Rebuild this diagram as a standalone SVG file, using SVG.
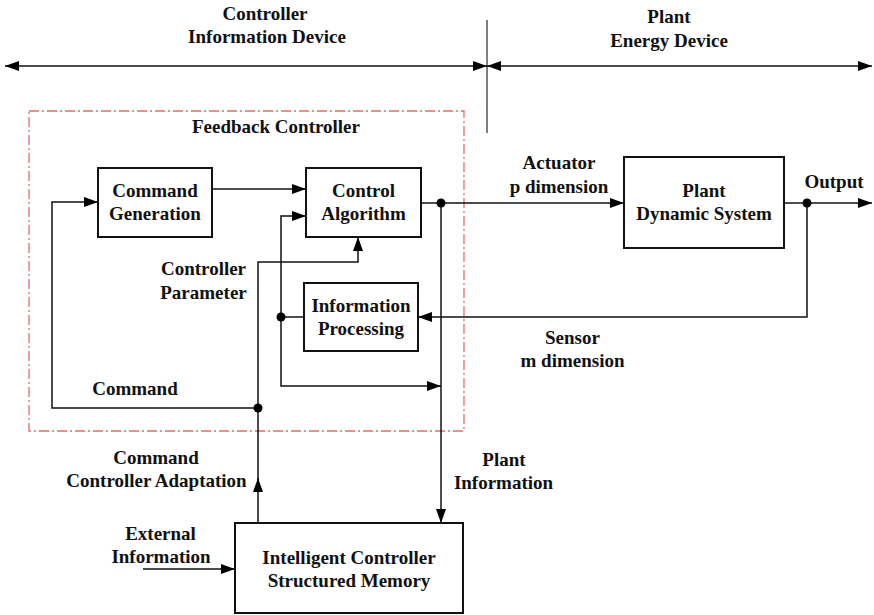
<svg xmlns="http://www.w3.org/2000/svg" width="874" height="615" viewBox="0 0 874 615">
<defs>
<marker id="ah" markerWidth="14" markerHeight="10" refX="14" refY="5" orient="auto-start-reverse" markerUnits="userSpaceOnUse"><path d="M0,0 L14,5 L0,10 z" fill="#000"/></marker>
<style>
text{font-family:"Liberation Serif","Times New Roman",serif;font-weight:bold;font-size:19px;fill:#111;text-anchor:middle}
.box{fill:#fff;stroke:#111;stroke-width:2}
.ln{fill:none;stroke:#111;stroke-width:1.5}
.arr{fill:none;stroke:#111;stroke-width:1.5;marker-end:url(#ah)}
.dot{fill:#000}
.region{fill:none;stroke:#e36a6a;stroke-width:1.3;stroke-dasharray:10 3 2 3}
</style>
</defs>
<rect width="874" height="615" fill="#fff"/>
<g id="domains">
<line x1="487" y1="20" x2="487" y2="133" stroke="#555" stroke-width="1.5"/>
<line x1="5" y1="66" x2="487" y2="66" stroke="#111" stroke-width="1.5" marker-start="url(#ah)" marker-end="url(#ah)"/>
<line x1="487" y1="66" x2="872" y2="66" stroke="#111" stroke-width="1.5" marker-start="url(#ah)" marker-end="url(#ah)"/>
<text x="265" y="20">Controller</text>
<text x="267" y="43">Information Device</text>
<text x="669" y="23">Plant</text>
<text x="669" y="47">Energy Device</text>
</g>
<g id="feedback-controller">
<rect class="region" x="29" y="111" width="435" height="320"/>
<text x="276" y="133">Feedback Controller</text>
</g>
<g id="connectors">
<path class="arr" d="M212,189 H306"/>
<path class="arr" d="M258,408 H52 V202 H98"/>
<path class="arr" d="M258,480 V262 H358 V237"/>
<path class="arr" d="M258,523 V478"/>
<path class="ln" d="M304,317 H281"/>
<path class="arr" d="M281,317 V216 H306"/>
<path class="arr" d="M281,317 V386 H441"/>
<path class="arr" d="M421,203 H624"/>
<path class="arr" d="M441,203 V523"/>
<path class="arr" d="M784,203 H872"/>
<path class="arr" d="M807,203 V317 H418"/>
<path class="arr" d="M143,569 H235"/>
<circle class="dot" cx="441" cy="203" r="4.5"/>
<circle class="dot" cx="807" cy="203" r="4.5"/>
<circle class="dot" cx="281" cy="317" r="4.5"/>
<circle class="dot" cx="258" cy="408" r="4.5"/>
</g>
<g id="labels">
<text x="203.5" y="275">Controller</text>
<text x="203.5" y="299">Parameter</text>
<text x="135" y="395">Command</text>
<text x="559" y="169">Actuator</text>
<text x="559" y="193">p dimension</text>
<text x="834" y="188">Output</text>
<text x="572.5" y="344">Sensor</text>
<text x="572.5" y="367">m dimension</text>
<text x="156" y="464">Command</text>
<text x="156.5" y="487">Controller Adaptation</text>
<text x="504" y="466">Plant</text>
<text x="503.5" y="489">Information</text>
<text x="160.5" y="540">External</text>
<text x="161" y="563">Information</text>
</g>
<g id="command-generation">
<rect class="box" x="98" y="168" width="114" height="69"/>
<text x="155" y="197">Command</text>
<text x="155" y="220">Generation</text>
</g>
<g id="control-algorithm">
<rect class="box" x="306" y="168" width="115" height="69"/>
<text x="363.5" y="197">Control</text>
<text x="363.5" y="220">Algorithm</text>
</g>
<g id="information-processing">
<rect class="box" x="304" y="283" width="114" height="68"/>
<text x="361" y="312">Information</text>
<text x="361" y="335">Processing</text>
</g>
<g id="plant-dynamic-system">
<rect class="box" x="624" y="157" width="160" height="91"/>
<text x="704" y="197">Plant</text>
<text x="704" y="220">Dynamic System</text>
</g>
<g id="intelligent-controller">
<rect class="box" x="235" y="523" width="228" height="90"/>
<text x="349" y="564">Intelligent Controller</text>
<text x="349" y="587">Structured Memory</text>
</g>
</svg>
